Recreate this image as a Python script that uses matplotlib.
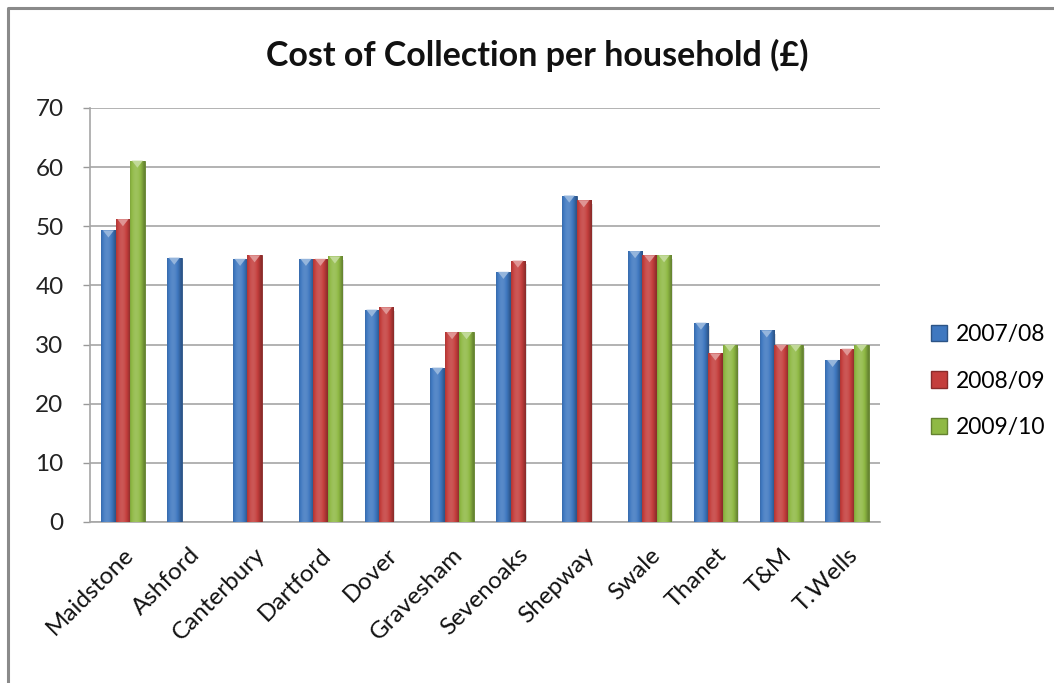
import numpy as np
import matplotlib
matplotlib.use("Agg")
import matplotlib.pyplot as plt
from matplotlib.lines import Line2D
from matplotlib.patches import Polygon, Rectangle
from matplotlib.colors import to_rgb

plt.rcParams['font.family'] = ['Lato', 'DejaVu Sans']

districts = ["Maidstone", "Ashford", "Canterbury", "Dartford", "Dover", "Gravesham",
             "Sevenoaks", "Shepway", "Swale", "Thanet", "T&M", "T.Wells"]
years = ["2007/08", "2008/09", "2009/10"]
cost_0708 = [49.3, 44.7, 44.5, 44.5, 35.9, 26.1, 42.3, 55.2, 45.8, 33.7, 32.4, 27.4]
cost_0809 = [51.2, np.nan, 45.1, 44.5, 36.3, 32.1, 44.2, 54.4, 45.1, 28.5, 30.0, 29.3]
cost_0910 = [61.1, np.nan, np.nan, 44.9, np.nan, 32.1, np.nan, np.nan, 45.1, 30.0, 30.0, 30.0]
y_ticks = [0, 10, 20, 30, 40, 50, 60, 70]

series = [cost_0708, cost_0809, cost_0910]
colors = ["#3F78C0", "#C43E3C", "#8FB944"]

fig = plt.figure(figsize=(10.54, 6.83), dpi=100)
ax = fig.add_axes([90 / 1054, 1 - 522 / 683, 790 / 1054, 414 / 683])

x = np.arange(len(districts))
width = 0.22


def shade(c, f):
    r = np.array(to_rgb(c))
    if f >= 0:
        return tuple(r + (1 - r) * f)
    return tuple(r * (1 + f))


def bevel_bar(rect, color):
    x0, y0 = rect.get_x(), rect.get_y()
    w, h = rect.get_width(), rect.get_height()
    # horizontal gradient across the bar: lighter left, darker right edge
    n = 64
    t = np.linspace(0, 1, n)
    prof = 0.16 * np.sin(np.pi * np.clip(t * 1.1, 0, 1)) - 0.3 * t ** 3 - 0.12 * (1 - t) ** 6
    img = np.array([[shade(color, p) for p in prof]])
    im = ax.imshow(img, extent=[x0, x0 + w, y0, y0 + h], aspect='auto',
                   interpolation='bilinear', zorder=3)
    im.set_clip_path(rect)
    # lighter bevel triangle at the top
    tri_h = 1.2
    tri = Polygon([[x0 + 0.12 * w, y0 + h], [x0 + 0.88 * w, y0 + h],
                   [x0 + 0.5 * w, y0 + h - tri_h]], closed=True,
                  facecolor=shade(color, 0.45), edgecolor='none', zorder=4)
    ax.add_patch(tri)
    # soft drop shadow on the right
    sh = Rectangle((x0 + w, y0), 0.025, h - 0.6, facecolor=(0, 0, 0, 0.12),
                   edgecolor='none', zorder=2.5)
    ax.add_patch(sh)


for i, (vals, col, lab) in enumerate(zip(series, colors, years)):
    bars = ax.bar(x + (i - 1) * width, vals, width, color=col, label=lab,
                  edgecolor=shade(col, -0.3), linewidth=0.6, zorder=3)
    for rect, v in zip(bars.patches, vals):
        if np.isfinite(v):
            bevel_bar(rect, col)

ax.set_xlim(-0.5, len(districts) - 0.5)
ax.set_ylim(0, 70)
ax.set_yticks(y_ticks)
ax.set_yticklabels([str(t) for t in y_ticks], fontsize=17.5, color='#222222')
ax.set_xticks(x)
ax.set_xticklabels(districts, rotation=45, ha='right', rotation_mode='anchor',
                   fontsize=17.5, color='#111111')
ax.tick_params(axis='x', length=0, pad=16)
ax.tick_params(axis='y', length=5, color='#999999', width=1, pad=14)
ax.yaxis.grid(True, color='#A6A6A6', linewidth=1.2, zorder=0)
ax.set_axisbelow(True)
for s in ['top', 'right']:
    ax.spines[s].set_visible(False)
for s in ['left', 'bottom']:
    ax.spines[s].set_color('#A6A6A6')
    ax.spines[s].set_linewidth(1.2)

fig.text(537 / 1054, 1 - 55 / 683, "Cost of Collection per household (£)",
         ha='center', va='center', fontsize=24.5, fontweight='bold', color='#111111')

handles = [Rectangle((0, 0), 1, 1, facecolor=c, edgecolor=shade(c, -0.3)) for c in colors]
leg = fig.legend(handles, years, loc='center left',
                 bbox_to_anchor=(910 / 1054, 1 - 381 / 683), frameon=False,
                 fontsize=16.5, handlelength=0.7, handleheight=0.7,
                 labelspacing=1.1, handletextpad=0.4)

# outer chart border
fig.add_artist(Line2D([8 / 1054, 8 / 1054, 1.0], [0.0, 1 - 8 / 683, 1 - 8 / 683],
                      transform=fig.transFigure, color='#8A8A8A', linewidth=2.2))

fig.savefig("out.png", dpi=100)
